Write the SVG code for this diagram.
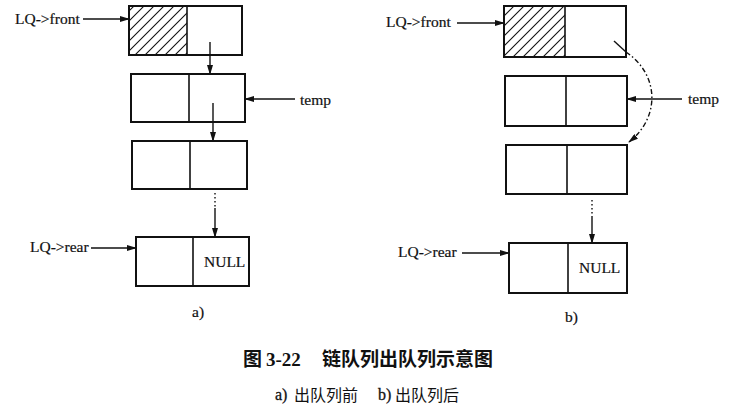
<svg xmlns="http://www.w3.org/2000/svg" width="734" height="415" viewBox="0 0 734 415">
<style>
.box{fill:none;stroke:#111;stroke-width:2}
.div{stroke:#111;stroke-width:1.6}
.ln{stroke:#111;stroke-width:1.4;fill:none}
.dot{stroke:#111;stroke-width:1.4;stroke-dasharray:1.5 2.5;fill:none}
.dd{stroke:#111;stroke-width:1.4;stroke-dasharray:5 2.5 1.5 2.5;fill:none}
.t{font-family:"Liberation Serif","Times New Roman",serif;font-size:15.5px;fill:#111;stroke:#111;stroke-width:0.2}
.cap{font-family:"Noto Sans CJK SC",sans-serif;font-weight:bold;font-size:19px;fill:#111}
.capn{font-family:"Liberation Serif",serif;font-weight:bold;font-size:19px;fill:#111}
.sub{font-family:"Noto Sans CJK SC",sans-serif;font-size:16px;fill:#111}
.subn{font-family:"Liberation Serif",serif;font-size:16px;fill:#111;stroke:#111;stroke-width:0.3}
</style>
<defs>
<marker id="ah" markerWidth="10" markerHeight="6" refX="9" refY="3" orient="auto" markerUnits="userSpaceOnUse">
<path d="M0,0 L10,3 L0,6 Z" fill="#111"/>
</marker>
<pattern id="hatch" patternUnits="userSpaceOnUse" width="10" height="10">
<path d="M-3,3 L3,-3 M0,10 L10,0 M7,13 L13,7" stroke="#111" stroke-width="1.1"/>
</pattern>
</defs>
<rect width="734" height="415" fill="#fff"/>

<g id="connectors">
<line class="ln" x1="83" y1="19" x2="129" y2="19" marker-end="url(#ah)"/>
<line class="ln" x1="210" y1="42" x2="210" y2="74" marker-end="url(#ah)"/>
<line class="ln" x1="295" y1="99" x2="245" y2="99" marker-end="url(#ah)"/>
<line class="ln" x1="213" y1="103" x2="213" y2="141" marker-end="url(#ah)"/>
<line class="dot" x1="215" y1="193" x2="215" y2="208"/>
<line class="ln" x1="215" y1="208" x2="215" y2="237" marker-end="url(#ah)"/>
<line class="ln" x1="91" y1="248" x2="136" y2="248" marker-end="url(#ah)"/>
<line class="ln" x1="457" y1="23" x2="504" y2="23" marker-end="url(#ah)"/>
<line class="ln" x1="614" y1="41" x2="626" y2="52"/>
<path class="dd" d="M626,52 C660,75 660,118 629,142" marker-end="url(#ah)"/>
<line class="ln" x1="682" y1="99" x2="627" y2="99" marker-end="url(#ah)"/>
<line class="dot" x1="592" y1="200" x2="592" y2="217"/>
<line class="ln" x1="592" y1="217" x2="592" y2="243" marker-end="url(#ah)"/>
<line class="ln" x1="462" y1="253" x2="509" y2="253" marker-end="url(#ah)"/>
</g>

<g id="a-node1">
<rect x="129" y="6" width="58" height="49" fill="url(#hatch)"/>
<rect class="box" x="129" y="6" width="113" height="49"/>
<line class="div" x1="187" y1="6" x2="187" y2="55"/>
</g>
<g id="a-node2">
<rect class="box" x="131" y="74" width="114" height="48"/>
<line class="div" x1="189" y1="74" x2="189" y2="122"/>
</g>
<g id="a-node3">
<rect class="box" x="132" y="141" width="115" height="48"/>
<line class="div" x1="190" y1="141" x2="190" y2="189"/>
</g>
<g id="a-node4">
<rect class="box" x="136" y="237" width="113" height="49"/>
<line class="div" x1="193" y1="237" x2="193" y2="286"/>
<text class="t" x="204" y="267">NULL</text>
</g>
<g id="a-labels">
<text class="t" x="15" y="24">LQ->front</text>
<text class="t" x="300" y="105">temp</text>
<text class="t" x="30" y="252">LQ->rear</text>
<text class="t" x="192" y="317">a)</text>
</g>

<g id="b-node1">
<rect x="504" y="6" width="61" height="51" fill="url(#hatch)"/>
<rect class="box" x="504" y="6" width="122" height="51"/>
<line class="div" x1="565" y1="6" x2="565" y2="57"/>
</g>
<g id="b-node2">
<rect class="box" x="505" y="76" width="122" height="50"/>
<line class="div" x1="566" y1="76" x2="566" y2="126"/>
</g>
<g id="b-node3">
<rect class="box" x="506" y="145" width="121" height="49"/>
<line class="div" x1="567" y1="145" x2="567" y2="194"/>
</g>
<g id="b-node4">
<rect class="box" x="509" y="243" width="118" height="50"/>
<line class="div" x1="568" y1="243" x2="568" y2="293"/>
<text class="t" x="579" y="273">NULL</text>
</g>
<g id="b-labels">
<text class="t" x="386" y="27">LQ->front</text>
<text class="t" x="688" y="104">temp</text>
<text class="t" x="398" y="257">LQ->rear</text>
<text class="t" x="565" y="322">b)</text>
</g>

<g id="caption">
<text class="cap" x="243" y="366">图</text>
<text class="capn" x="266" y="366">3-22</text>
<text class="cap" x="322" y="366">链队列出队列示意图</text>
<text class="subn" x="275" y="400">a)</text>
<text class="sub" x="294" y="401">出队列前</text>
<text class="subn" x="378" y="400">b)</text>
<text class="sub" x="395" y="401">出队列后</text>
</g>
</svg>
